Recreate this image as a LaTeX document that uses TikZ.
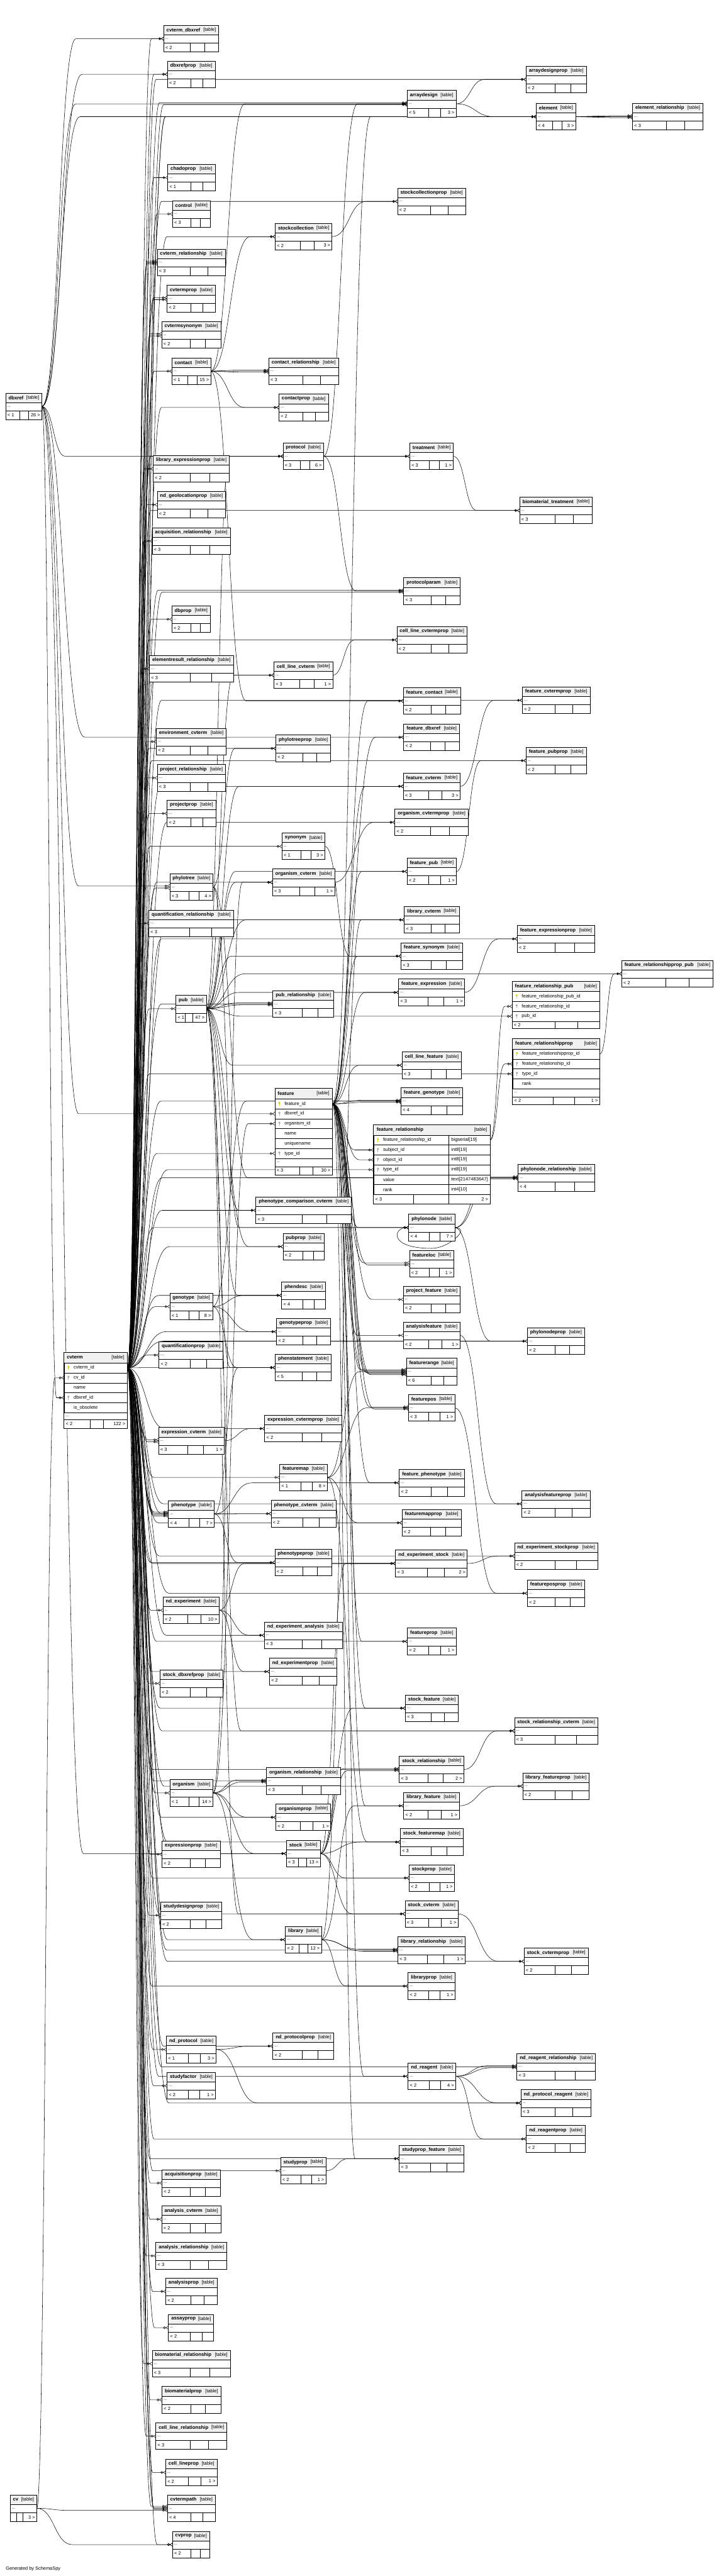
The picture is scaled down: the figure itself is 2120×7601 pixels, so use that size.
\documentclass[tikz,border=0pt]{standalone}
\usepackage{fontspec}
\setmainfont{Liberation Sans}
\usetikzlibrary{arrows.meta,calc}

\pgfdeclarelayer{fondo}
\pgfsetlayers{fondo,main}

\definecolor{pkcol}{RGB}{225,210,0}
\definecolor{fkcol}{RGB}{170,170,170}
\def\px{0.75pt}

% tabla contraida: nombre, x, y, ancho, padres, hijos
\newcommand\tbl[6]{%
  \node[tblbox, minimum width={#4*\px}, anchor=north west] (#1) at (#2,#3) {};
  \fill[hdrfill] (#1.north west) rectangle ($(#1.north east)+(0,28)$);
  \draw[inner] ($(#1.north west)+(0,28)$) -- ($(#1.north east)+(0,28)$)
               ($(#1.north west)+(0,52)$) -- ($(#1.north east)+(0,52)$);
  \ifx\relax#6\relax
    \pgfmathsetmacro\dA{0.485*#4}\pgfmathsetmacro\dB{0.74*#4}%
  \else
    \pgfmathsetmacro\dB{#4-max(0.32*#4,40)}\pgfmathsetmacro\dA{\dB-max(0.24*#4,20)}%
  \fi
  \draw[inner] ($(#1.south west)+(\dA,0)$) -- +(0,-26)
               ($(#1.south west)+(\dB,0)$) -- +(0,-26);
  \draw[frame] (#1.north west) rectangle (#1.south east);
  \node[ttl, anchor=west] (#1-t) at ($(#1.north west)+(8,14)$) {\detokenize{#1}};
  \node[tag, anchor=east] (#1-k) at ($(#1.north east)+(-8,14)$) {[table]};
  \node[dots, anchor=west] (#1-d) at ($(#1.north west)+(4,40)$) {...};
  \node[cnt, anchor=west] (#1-l) at ($(#1.south west)+(5,-13)$) {#5};
  \node[cnt, anchor=east] (#1-r) at ($(#1.south east)+(-5,-13)$) {#6};
}

% fila de tabla expandida: nombre, x, y, ancho, alto, columna
\newcommand\xrow[6]{%
  \node[rowbox, minimum width={#4*\px}, minimum height={#5*\px}, anchor=north west] (#1) at (#2,#3) {};
  \node[rowtxt, anchor=west] (#1-t) at ($(#1.west)+(28,0)$) {\detokenize{#6}};
}

% llave: fila, color
\newcommand\llave[2]{%
  \fill[#2] ($(#1.west)+(13,-3)$) circle[radius=2.6pt];
  \draw[#2, line width=1.4pt] ($(#1.west)+(13,-2)$) -- ++(0,8);
}

\begin{document}
\begin{tikzpicture}[
    x=0.75pt, y=-0.75pt,
    tblbox/.style={inner sep=0pt, fill=white, minimum height={78*\px}},
    rowbox/.style={draw, line width=0.6pt, inner sep=0pt},
    hdrfill/.style={fill=black!6},
    inner/.style={line width=0.6pt},
    frame/.style={line width=1.1pt},
    ttl/.style={inner sep=0pt, font=\fontsize{10.8}{12}\selectfont\bfseries},
    tag/.style={inner sep=0pt, font=\fontsize{10.3}{12}\selectfont},
    rowtxt/.style={inner sep=0pt, font=\fontsize{10.5}{12}\selectfont},
    dots/.style={inner sep=0pt, font=\fontsize{9}{10}\selectfont},
    cnt/.style={inner sep=0pt, font=\fontsize{10.3}{12}\selectfont},
    fk/.style={line width=0.75pt,
      -{Circle[open,length=5.5pt,width=5.5pt] Straight Barb[reversed,length=5pt,width=7pt]}}
  ]
  \useasboundingbox (0,0) rectangle (2120,7601);

  % columna izquierda
  \tbl{dbxref}{17}{1160}{106}{< 1}{26 >}
  \tbl{cv}{30}{7362}{78}{}{3 >}

  % cvterm expandida
  \node[tblbox, minimum width={186*\px}, minimum height={225*\px}, anchor=north west] (cvterm-tbl) at (189,3990) {};
  \fill[hdrfill] (189,3990) rectangle (375,4021);
  \node[ttl, anchor=west] (cvterm-tbl-t) at (197,4005.5) {cvterm};
  \node[tag, anchor=east] (cvterm-tbl-k) at (367,4005.5) {[table]};
  \xrow{cvterm}{189}{4021}{186}{29.4}{cvterm_id}
  \xrow{cvterm-cv}{189}{4050.4}{186}{29.4}{cv_id}
  \xrow{cvterm-name}{189}{4079.8}{186}{29.4}{name}
  \xrow{cvterm-dbxref}{189}{4109.2}{186}{29.4}{dbxref_id}
  \xrow{cvterm-obs}{189}{4138.6}{186}{29.4}{is_obsolete}
  \llave{cvterm}{pkcol} \llave{cvterm-cv}{fkcol} \llave{cvterm-dbxref}{fkcol}
  \node[dots, anchor=west] (cvterm-tbl-d) at (193,4178.5) {...};
  \draw[inner] (189,4189) -- (375,4189) (265,4189) -- (265,4215) (305,4189) -- (305,4215);
  \node[cnt, anchor=west] (cvterm-tbl-l) at (194,4202) {< 2};
  \node[cnt, anchor=east] (cvterm-tbl-r) at (370,4202) {122 >};
  \draw[frame] (cvterm-tbl.north west) rectangle (cvterm-tbl.south east);

  % columna 2
  \tbl{cvterm_dbxref}{483}{75}{162}{< 2}{}
  \tbl{dbxrefprop}{494}{180}{140}{< 2}{}
  \tbl{chadoprop}{495}{485}{139}{< 1}{}
  \tbl{control}{509}{592}{111}{< 3}{}
  \tbl{cvterm_relationship}{464}{735}{200}{< 3}{}
  \tbl{cvtermprop}{493}{842}{142}{< 2}{}
  \tbl{cvtermsynonym}{477}{949}{174}{< 2}{}
  \tbl{contact}{507}{1056}{114}{< 1}{15 >}
  \tbl{library_expressionprop}{452}{1344}{224}{< 2}{}
  \tbl{nd_geolocationprop}{464}{1450}{201}{< 2}{}
  \tbl{acquisition_relationship}{449}{1557}{230}{< 3}{}
  \tbl{dbprop}{507}{1788}{113}{< 2}{}
  \tbl{elementresult_relationship}{441}{1934}{247}{< 3}{}
  \tbl{environment_cvterm}{461}{2149}{206}{< 2}{}
  \tbl{project_relationship}{464}{2256}{201}{< 3}{}
  \tbl{projectprop}{493}{2361}{143}{< 2}{}
  \tbl{phylotree}{501}{2578}{127}{< 3}{4 >}
  \tbl{quantification_relationship}{439}{2685}{249}{< 3}{}
  \tbl{pub}{519}{2937}{89}{< 1}{47 >}
  \tbl{genotype}{501}{3816}{126}{< 1}{8 >}
  \tbl{quantificationprop}{469}{3959}{189}{< 2}{}
  \tbl{expression_cvterm}{468}{4212}{193}{< 3}{1 >}
  \tbl{phenotype}{497}{4428}{135}{< 4}{7 >}
  \tbl{nd_experiment}{481}{4712}{165}{< 2}{10 >}
  \tbl{stock_dbxrefprop}{472}{4928}{185}{< 2}{}
  \tbl{organism}{501}{5251}{127}{< 1}{14 >}
  \tbl{expressionprop}{478}{5432}{171}{< 2}{}
  \tbl{studydesignprop}{474}{5612}{180}{< 2}{}
  \tbl{nd_protocol}{491}{6008}{146}{< 1}{3 >}
  \tbl{studyfactor}{493}{6115}{142}{< 2}{1 >}
  \tbl{acquisitionprop}{478}{6402}{171}{< 2}{}
  \tbl{analysis_cvterm}{477}{6509}{174}{< 2}{}
  \tbl{analysis_relationship}{460}{6617}{209}{< 3}{}
  \tbl{analysisprop}{489}{6722}{151}{< 2}{}
  \tbl{assayprop}{497}{6829}{133}{< 2}{}
  \tbl{biomaterial_relationship}{449}{6935}{230}{< 3}{}
  \tbl{biomaterialprop}{478}{7042}{173}{< 2}{}
  \tbl{cell_line_relationship}{460}{7149}{209}{< 3}{}
  \tbl{cell_lineprop}{489}{7256}{151}{< 2}{1 >}
  \tbl{cvtermpath}{494}{7362}{141}{< 4}{}
  \tbl{cvprop}{509}{7469}{109}{< 2}{}

  % columna 3
  \tbl{stockcollection}{812}{659}{167}{< 2}{3 >}
  \tbl{contact_relationship}{793}{1056}{205}{< 3}{}
  \tbl{contactprop}{823}{1163}{145}{< 2}{}
  \tbl{protocol}{835}{1307}{119}{< 3}{6 >}
  \tbl{cell_line_cvterm}{808}{1953}{173}{< 3}{1 >}
  \tbl{phylotreeprop}{814}{2169}{161}{< 2}{}
  \tbl{synonym}{832}{2458}{126}{< 1}{3 >}
  \tbl{organism_cvterm}{804}{2564}{183}{< 3}{1 >}
  \tbl{pub_relationship}{805}{2923}{179}{< 3}{}
  \tbl{phenotype_comparison_cvterm}{755}{3532}{281}{< 3}{}
  \tbl{pubprop}{835}{3639}{121}{< 2}{}
  \tbl{phendesc}{831}{3783}{129}{< 4}{}
  \tbl{genotypeprop}{816}{3890}{159}{< 2}{}
  \tbl{phenstatement}{812}{3996}{165}{< 5}{}
  \tbl{expression_cvtermprop}{781}{4176}{227}{< 2}{}
  \tbl{featuremap}{825}{4320}{140}{< 1}{8 >}
  \tbl{phenotype_cvterm}{800}{4427}{191}{< 2}{}
  \tbl{phenotypeprop}{811}{4571}{168}{< 2}{}
  \tbl{nd_experiment_analysis}{780}{4786}{229}{< 3}{}
  \tbl{nd_experimentprop}{795}{4893}{198}{< 2}{}
  \tbl{organism_relationship}{786}{5216}{218}{< 3}{}
  \tbl{organismprop}{814}{5323}{161}{< 2}{1 >}
  \tbl{stock}{845}{5430}{99}{< 3}{13 >}
  \tbl{library}{842}{5684}{106}{< 2}{12 >}
  \tbl{nd_protocolprop}{805}{5998}{179}{< 2}{}
  \tbl{studyprop}{828}{6366}{133}{< 2}{1 >}

  % feature expandida
  \node[tblbox, minimum width={169*\px}, minimum height={254*\px}, anchor=north west] (feature-tbl) at (811,3212) {};
  \fill[hdrfill] (811,3212) rectangle (980,3242);
  \node[ttl, anchor=west] (feature-tbl-t) at (819,3227) {feature};
  \node[tag, anchor=east] (feature-tbl-k) at (972,3227) {[table]};
  \xrow{feature}{811}{3242}{169}{29.3}{feature_id}
  \xrow{feature-dbxref}{811}{3271.3}{169}{29.3}{dbxref_id}
  \xrow{feature-organism}{811}{3300.6}{169}{29.3}{organism_id}
  \xrow{feature-name}{811}{3329.9}{169}{29.3}{name}
  \xrow{feature-uname}{811}{3359.2}{169}{29.3}{uniquename}
  \xrow{feature-type}{811}{3388.5}{169}{29.3}{type_id}
  \llave{feature}{pkcol} \llave{feature-dbxref}{fkcol}
  \llave{feature-organism}{fkcol} \llave{feature-type}{fkcol}
  \node[dots, anchor=west] (feature-tbl-d) at (815,3430) {...};
  \draw[inner] (811,3442) -- (980,3442) (883,3442) -- (883,3466) (922,3442) -- (922,3466);
  \node[cnt, anchor=west] (feature-tbl-l) at (816,3454) {< 3};
  \node[cnt, anchor=east] (feature-tbl-r) at (975,3454) {30 >};
  \draw[frame] (feature-tbl.north west) rectangle (feature-tbl.south east);

  % columna 4
  \tbl{arraydesign}{1201}{267}{144}{< 5}{3 >}
  \tbl{stockcollectionprop}{1173}{555}{200}{< 2}{}
  \tbl{treatment}{1209}{1307}{128}{< 3}{1 >}
  \tbl{protocolparam}{1191}{1705}{166}{< 3}{}
  \tbl{cell_line_cvtermprop}{1171}{1849}{206}{< 2}{}
  \tbl{feature_contact}{1190}{2029}{168}{< 2}{}
  \tbl{feature_dbxref}{1191}{2136}{164}{< 2}{}
  \tbl{feature_cvterm}{1190}{2281}{167}{< 3}{3 >}
  \tbl{organism_cvtermprop}{1165}{2387}{216}{< 2}{}
  \tbl{feature_pub}{1201}{2532}{145}{< 2}{1 >}
  \tbl{library_cvterm}{1193}{2675}{161}{< 3}{}
  \tbl{feature_synonym}{1183}{2782}{181}{< 3}{}
  \tbl{feature_expression}{1176}{2889}{194}{< 3}{1 >}
  \tbl{cell_line_feature}{1186}{3104}{175}{< 3}{}
  \tbl{feature_genotype}{1183}{3210}{182}{< 4}{}
  \tbl{phylonode}{1206}{3583}{135}{< 4}{7 >}
  \tbl{featureloc}{1208}{3690}{130}{< 2}{1 >}
  \tbl{project_feature}{1190}{3795}{167}{< 2}{}
  \tbl{analysisfeature}{1190}{3901}{167}{< 2}{1 >}
  \tbl{featurerange}{1199}{4008}{148}{< 6}{}
  \tbl{featurepos}{1205}{4115}{136}{< 3}{1 >}
  \tbl{feature_phenotype}{1178}{4336}{191}{< 2}{}
  \tbl{featuremapprop}{1186}{4454}{174}{< 2}{}
  \tbl{nd_experiment_stock}{1167}{4574}{211}{< 3}{2 >}
  \tbl{featureprop}{1202}{4804}{143}{< 2}{1 >}
  \tbl{stock_feature}{1196}{5001}{156}{< 3}{}
  \tbl{stock_relationship}{1178}{5182}{190}{< 3}{2 >}
  \tbl{library_feature}{1191}{5289}{163}{< 2}{1 >}
  \tbl{stock_featuremap}{1181}{5396}{185}{< 3}{}
  \tbl{stockprop}{1207}{5502}{133}{< 2}{1 >}
  \tbl{stock_cvterm}{1195}{5608}{156}{< 3}{1 >}
  \tbl{library_relationship}{1174}{5715}{198}{< 3}{1 >}
  \tbl{libraryprop}{1204}{5821}{138}{< 2}{1 >}
  \tbl{nd_reagent}{1204}{6087}{140}{< 2}{4 >}
  \tbl{studyprop_feature}{1178}{6330}{190}{< 3}{}

  % feature_relationship expandida
  \node[tblbox, minimum width={343*\px}, minimum height={234*\px}, anchor=north west] (feature_relationship-tbl) at (1102,3318) {};
  \fill[hdrfill] (1102,3318) rectangle (1445,3349);
  \node[ttl, anchor=west] (feature_relationship-tbl-t) at (1111,3333.5) {feature\_relationship};
  \node[tag, anchor=east] (feature_relationship-tbl-k) at (1437,3333.5) {[table]};
  \xrow{feature_relationship}{1102}{3349}{343}{29.17}{feature_relationship_id}
  \xrow{feature_relationship-subject}{1102}{3378.17}{343}{29.17}{subject_id}
  \xrow{feature_relationship-object}{1102}{3407.33}{343}{29.17}{object_id}
  \xrow{feature_relationship-type}{1102}{3436.5}{343}{29.17}{type_id}
  \xrow{feature_relationship-value}{1102}{3465.67}{343}{29.17}{value}
  \xrow{feature_relationship-rank}{1102}{3494.83}{343}{29.17}{rank}
  \llave{feature_relationship}{pkcol} \llave{feature_relationship-subject}{fkcol}
  \llave{feature_relationship-object}{fkcol} \llave{feature_relationship-type}{fkcol}
  \node[rowtxt, anchor=west] (feature_relationship-c1) at (1331,3363.6) {bigserial[19]};
  \node[rowtxt, anchor=west] (feature_relationship-c2) at (1331,3392.8) {int8[19]};
  \node[rowtxt, anchor=west] (feature_relationship-c3) at (1331,3421.9) {int8[19]};
  \node[rowtxt, anchor=west] (feature_relationship-c4) at (1331,3451.1) {int8[19]};
  \node[rowtxt, anchor=west] (feature_relationship-c5) at (1331,3480.3) {text[2147483647]};
  \node[rowtxt, anchor=west] (feature_relationship-c6) at (1331,3509.4) {int4[10]};
  \draw[inner] (1323,3349) -- (1323,3552) (1220,3524) -- (1220,3552);
  \node[cnt, anchor=west] (feature_relationship-tbl-l) at (1107,3538) {< 3};
  \node[cnt, anchor=east] (feature_relationship-tbl-r) at (1440,3538) {2 >};
  \draw[frame] (feature_relationship-tbl.north west) rectangle (feature_relationship-tbl.south east);

  % columna 5
  \tbl{arraydesignprop}{1552}{195}{177}{< 2}{}
  \tbl{element}{1582}{305}{116}{< 4}{3 >}
  \tbl{biomaterial_treatment}{1533}{1467}{214}{< 3}{}
  \tbl{feature_cvtermprop}{1541}{2027}{199}{< 2}{}
  \tbl{feature_pubprop}{1552}{2205}{177}{< 2}{}
  \tbl{feature_expressionprop}{1526}{2731}{228}{< 2}{}
  \tbl{phylonode_relationship}{1528}{3436}{225}{< 4}{}
  \tbl{phylonodeprop}{1556}{3918}{168}{< 2}{}
  \tbl{analysisfeatureprop}{1540}{4398}{200}{< 2}{}
  \tbl{nd_experiment_stockprop}{1518}{4552}{245}{< 2}{}
  \tbl{featureposprop}{1556}{4662}{169}{< 2}{}
  \tbl{stock_relationship_cvterm}{1518}{5068}{245}{< 3}{}
  \tbl{library_featureprop}{1542}{5231}{196}{< 2}{}
  \tbl{stock_cvtermprop}{1546}{5748}{189}{< 2}{}
  \tbl{nd_reagent_relationship}{1525}{6059}{231}{< 3}{}
  \tbl{nd_protocol_reagent}{1537}{6166}{206}{< 3}{}
  \tbl{nd_reagentprop}{1553}{6272}{173}{< 2}{}

  % feature_relationship_pub expandida
  \node[tblbox, minimum width={258*\px}, minimum height={140*\px}, anchor=north west] (feature_relationship_pub-tbl) at (1511,2895) {};
  \fill[hdrfill] (1511,2895) rectangle (1769,2925);
  \node[ttl, anchor=west] (feature_relationship_pub-tbl-t) at (1519,2910) {feature\_relationship\_pub};
  \node[tag, anchor=east] (feature_relationship_pub-tbl-k) at (1761,2910) {[table]};
  \xrow{feature_relationship_pub}{1511}{2925}{258}{29.33}{feature_relationship_pub_id}
  \xrow{feature_relationship_pub-fr}{1511}{2954.33}{258}{29.33}{feature_relationship_id}
  \xrow{feature_relationship_pub-pub}{1511}{2983.67}{258}{29.33}{pub_id}
  \llave{feature_relationship_pub}{pkcol} \llave{feature_relationship_pub-fr}{fkcol}
  \llave{feature_relationship_pub-pub}{fkcol}
  \draw[inner] (1637,3013) -- (1637,3035) (1703,3013) -- (1703,3035);
  \node[cnt, anchor=west] (feature_relationship_pub-tbl-l) at (1516,3024) {< 2};
  \draw[frame] (feature_relationship_pub-tbl.north west) rectangle (feature_relationship_pub-tbl.south east);

  % feature_relationshipprop expandida
  \node[tblbox, minimum width={257*\px}, minimum height={194*\px}, anchor=north west] (feature_relationshipprop-tbl) at (1512,3065) {};
  \fill[hdrfill] (1512,3065) rectangle (1769,3095);
  \node[ttl, anchor=west] (feature_relationshipprop-tbl-t) at (1520,3080) {feature\_relationshipprop};
  \node[tag, anchor=east] (feature_relationshipprop-tbl-k) at (1761,3080) {[table]};
  \xrow{feature_relationshipprop}{1512}{3095}{257}{29.25}{feature_relationshipprop_id}
  \xrow{feature_relationshipprop-fr}{1512}{3124.25}{257}{29.25}{feature_relationship_id}
  \xrow{feature_relationshipprop-type}{1512}{3153.5}{257}{29.25}{type_id}
  \xrow{feature_relationshipprop-rank}{1512}{3182.75}{257}{29.25}{rank}
  \llave{feature_relationshipprop}{pkcol} \llave{feature_relationshipprop-fr}{fkcol}
  \llave{feature_relationshipprop-type}{fkcol}
  \node[dots, anchor=west] (feature_relationshipprop-tbl-d) at (1516,3224.5) {...};
  \draw[inner] (1512,3237) -- (1769,3237) (1632,3237) -- (1632,3259) (1694,3237) -- (1694,3259);
  \node[cnt, anchor=west] (feature_relationshipprop-tbl-l) at (1517,3248) {< 2};
  \node[cnt, anchor=east] (feature_relationshipprop-tbl-r) at (1764,3248) {1 >};
  \draw[frame] (feature_relationshipprop-tbl.north west) rectangle (feature_relationshipprop-tbl.south east);

  % columna 6
  \tbl{element_relationship}{1866}{305}{207}{< 3}{}
  \tbl{feature_relationshipprop_pub}{1834}{2834}{269}{< 2}{}

  \node[cnt, anchor=west] (pie) at (17,7580) {Generated by SchemaSpy};

  % relaciones (padre/hijo/desplazamiento)
  \begin{pgfonlayer}{fondo}
  \foreach \src/\dst/\off in {
    cv/cvterm-cv/0, cv/cvtermpath/6, cv/cvprop/0,
    dbxref/cvterm-dbxref/0, dbxref/cvterm_dbxref/0, dbxref/dbxrefprop/0, dbxref/phylotree/-3,
    dbxref/protocol/0, dbxref/feature-dbxref/0, dbxref/stock/0, dbxref/arraydesign/0,
    dbxref/element/0, dbxref/feature_dbxref/0,
    % cvterm, columna 2
    cvterm/cvterm_dbxref/0, cvterm/dbxrefprop/0, cvterm/chadoprop/0, cvterm/control/0,
    cvterm/cvterm_relationship/-4, cvterm/cvterm_relationship/0, cvterm/cvterm_relationship/4,
    cvterm/cvtermprop/-3, cvterm/cvtermprop/3, cvterm/cvtermsynonym/-3, cvterm/cvtermsynonym/3,
    cvterm/contact/0, cvterm/library_expressionprop/0, cvterm/nd_geolocationprop/0,
    cvterm/acquisition_relationship/0, cvterm/dbprop/0, cvterm/elementresult_relationship/0,
    cvterm/environment_cvterm/0, cvterm/project_relationship/0, cvterm/projectprop/0,
    cvterm/phylotree/3, cvterm/quantification_relationship/0, cvterm/pub/0, cvterm/genotype/0,
    cvterm/quantificationprop/0, cvterm/expression_cvterm/-3, cvterm/expression_cvterm/3,
    cvterm/phenotype/-6, cvterm/phenotype/-2, cvterm/phenotype/2, cvterm/phenotype/6,
    cvterm/nd_experiment/0, cvterm/stock_dbxrefprop/0, cvterm/organism/0, cvterm/expressionprop/0,
    cvterm/studydesignprop/0, cvterm/nd_protocol/0, cvterm/studyfactor/0, cvterm/acquisitionprop/0,
    cvterm/analysis_cvterm/0, cvterm/analysis_relationship/0, cvterm/analysisprop/0,
    cvterm/assayprop/0, cvterm/biomaterial_relationship/0, cvterm/biomaterialprop/0,
    cvterm/cell_line_relationship/0, cvterm/cell_lineprop/0, cvterm/cvtermpath/-6,
    cvterm/cvtermpath/-2, cvterm/cvtermpath/2, cvterm/cvprop/0,
    % cvterm, columna 3
    cvterm/stockcollection/0, cvterm/contact_relationship/0, cvterm/contactprop/0, cvterm/protocol/0,
    cvterm/cell_line_cvterm/0, cvterm/phylotreeprop/0, cvterm/synonym/0, cvterm/organism_cvterm/0,
    cvterm/pub_relationship/0, cvterm/feature-type/0, cvterm/phenotype_comparison_cvterm/0,
    cvterm/pubprop/0, cvterm/phendesc/0, cvterm/genotypeprop/0, cvterm/phenstatement/0,
    cvterm/expression_cvtermprop/0, cvterm/featuremap/0, cvterm/phenotype_cvterm/0,
    cvterm/phenotypeprop/0, cvterm/nd_experiment_analysis/0, cvterm/nd_experimentprop/0,
    cvterm/organism_relationship/0, cvterm/organismprop/0, cvterm/stock/0, cvterm/library/0,
    cvterm/nd_protocolprop/0, cvterm/studyprop/0,
    % cvterm, columnas 4 a 6
    cvterm/arraydesign/-3, cvterm/arraydesign/3, cvterm/stockcollectionprop/0, cvterm/treatment/0,
    cvterm/protocolparam/-3, cvterm/protocolparam/3, cvterm/cell_line_cvtermprop/0,
    cvterm/feature_cvterm/0, cvterm/organism_cvtermprop/0, cvterm/library_cvterm/0,
    cvterm/feature_genotype/0, cvterm/feature_relationship-type/0, cvterm/phylonode/0,
    cvterm/featuremapprop/0, cvterm/nd_experiment_stock/0, cvterm/featureprop/0,
    cvterm/stock_feature/0, cvterm/stock_relationship/0, cvterm/stock_featuremap/0,
    cvterm/stockprop/0, cvterm/stock_cvterm/0, cvterm/library_relationship/0, cvterm/libraryprop/0,
    cvterm/nd_reagent/0, cvterm/studyprop_feature/0, cvterm/arraydesignprop/0, cvterm/element/0,
    cvterm/biomaterial_treatment/0, cvterm/feature_cvtermprop/0, cvterm/feature_pubprop/0,
    cvterm/feature_expressionprop/0, cvterm/feature_relationshipprop-type/0,
    cvterm/phylonode_relationship/0, cvterm/phylonodeprop/0, cvterm/analysisfeatureprop/0,
    cvterm/nd_experiment_stockprop/0, cvterm/featureposprop/0, cvterm/stock_relationship_cvterm/0,
    cvterm/library_featureprop/0, cvterm/stock_cvtermprop/0, cvterm/nd_reagent_relationship/0,
    cvterm/nd_protocol_reagent/0, cvterm/nd_reagentprop/0, cvterm/element_relationship/0,
    % contact y pub
    contact/stockcollection/0, contact/contact_relationship/-3, contact/contact_relationship/3,
    contact/contactprop/0, contact/arraydesign/0, contact/feature_contact/0,
    pub/protocol/0, pub/cell_line_cvterm/0, pub/organism_cvterm/0, pub/pub_relationship/-3,
    pub/pub_relationship/3, pub/phenotype_comparison_cvterm/0, pub/pubprop/0, pub/phendesc/0,
    pub/phenstatement/0, pub/feature_cvterm/0, pub/feature_pub/0, pub/library_cvterm/0,
    pub/feature_synonym/0, pub/feature_expression/0, pub/cell_line_feature/0,
    pub/feature_relationship_pub-pub/0, pub/feature_relationshipprop_pub/0,
    pub/stock_relationship_cvterm/0, pub/stock_cvterm/0,
    % resto
    protocol/arraydesign/0, protocol/treatment/0, protocol/protocolparam/0,
    arraydesign/arraydesignprop/0, arraydesign/element/0,
    element/element_relationship/-3, element/element_relationship/3,
    treatment/biomaterial_treatment/0, stockcollection/stockcollectionprop/0,
    phylotree/phylotreeprop/0, phylotree/phylonode/0, phylotree/phylonode_relationship/0,
    genotype/phendesc/0, genotype/genotypeprop/0, genotype/phenstatement/0, genotype/feature_genotype/0,
    phenotype/phenstatement/0, phenotype/phenotype_cvterm/0, phenotype/phenotypeprop/0,
    phenotype/feature_phenotype/0, expression_cvterm/expression_cvtermprop/0,
    organism/feature-organism/0, organism/organism_cvterm/0, organism/organism_relationship/-3,
    organism/organism_relationship/3, organism/organismprop/0, organism/stock/0, organism/library/0,
    synonym/feature_synonym/0, organism_cvterm/organism_cvtermprop/0,
    cell_line_cvterm/cell_line_cvtermprop/0,
    nd_experiment/nd_experiment_analysis/0, nd_experiment/nd_experimentprop/0,
    nd_experiment/nd_experiment_stock/0,
    featuremap/featurerange/0, featuremap/featurepos/0, featuremap/featuremapprop/0,
    featuremap/stock_featuremap/0,
    stock/nd_experiment_stock/0, stock/stock_feature/0, stock/stock_relationship/-3,
    stock/stock_relationship/3, stock/stock_featuremap/0, stock/stockprop/0, stock/stock_cvterm/0,
    library/library_cvterm/0, library/library_feature/0, library/library_relationship/-3,
    library/library_relationship/3, library/libraryprop/0,
    nd_protocol/nd_protocolprop/0, nd_protocol/nd_protocol_reagent/0,
    studyprop/studyprop_feature/0,
    feature/feature_contact/0, feature/feature_dbxref/0, feature/feature_cvterm/0,
    feature/feature_pub/0, feature/feature_synonym/0, feature/feature_expression/0,
    feature/cell_line_feature/0, feature/feature_genotype/-3, feature/feature_genotype/3,
    feature/feature_relationship-subject/0, feature/feature_relationship-object/0,
    feature/phylonode/0, feature/featureloc/-3, feature/featureloc/3, feature/project_feature/0,
    feature/analysisfeature/0, feature/featurerange/-6, feature/featurerange/-3,
    feature/featurerange/3, feature/featurerange/6, feature/featurerange/9,
    feature/featurepos/-3, feature/featurepos/3, feature/feature_phenotype/0, feature/featureprop/0,
    feature/stock_feature/0, feature/library_feature/0, feature/nd_reagent/0,
    feature/studyprop_feature/0, feature/element/0,
    feature_cvterm/feature_cvtermprop/0, feature_pub/feature_pubprop/0,
    feature_expression/feature_expressionprop/0,
    feature_relationship/feature_relationship_pub-fr/0,
    feature_relationship/feature_relationshipprop-fr/0,
    feature_relationshipprop/feature_relationshipprop_pub/0,
    phylonode/phylonode_relationship/-3, phylonode/phylonode_relationship/3,
    phylonode/phylonodeprop/0, analysisfeature/analysisfeatureprop/0,
    nd_experiment_stock/nd_experiment_stockprop/0, featurepos/featureposprop/0,
    stock_relationship/stock_relationship_cvterm/0, library_feature/library_featureprop/0,
    stock_cvterm/stock_cvtermprop/0, nd_reagent/nd_reagent_relationship/-3,
    nd_reagent/nd_reagent_relationship/3, nd_reagent/nd_protocol_reagent/0,
    nd_reagent/nd_reagentprop/0}{
    \draw[fk] let \p1=(\src.east), \p2=($(\dst.west)+(0,\off)$),
      \n1={min(0.33*(\x2-\x1),24+mod(abs(\y2),24))} in
      (\p1) .. controls (\x1+\n1*1pt,\y1) and (\x1+\n1*1pt,\y2) .. (\x1+2*\n1*1pt,\y2) -- (\p2);
  }
  % lazo de phylonode sobre si misma
  \draw[fk] (phylonode.east) .. controls +(50,0) and +(50,0) .. ($(phylonode.south)+(0,22)$)
            .. controls +(-130,0) and +(-45,0) .. (phylonode.west);
  \end{pgfonlayer}

\end{tikzpicture}
\end{document}
